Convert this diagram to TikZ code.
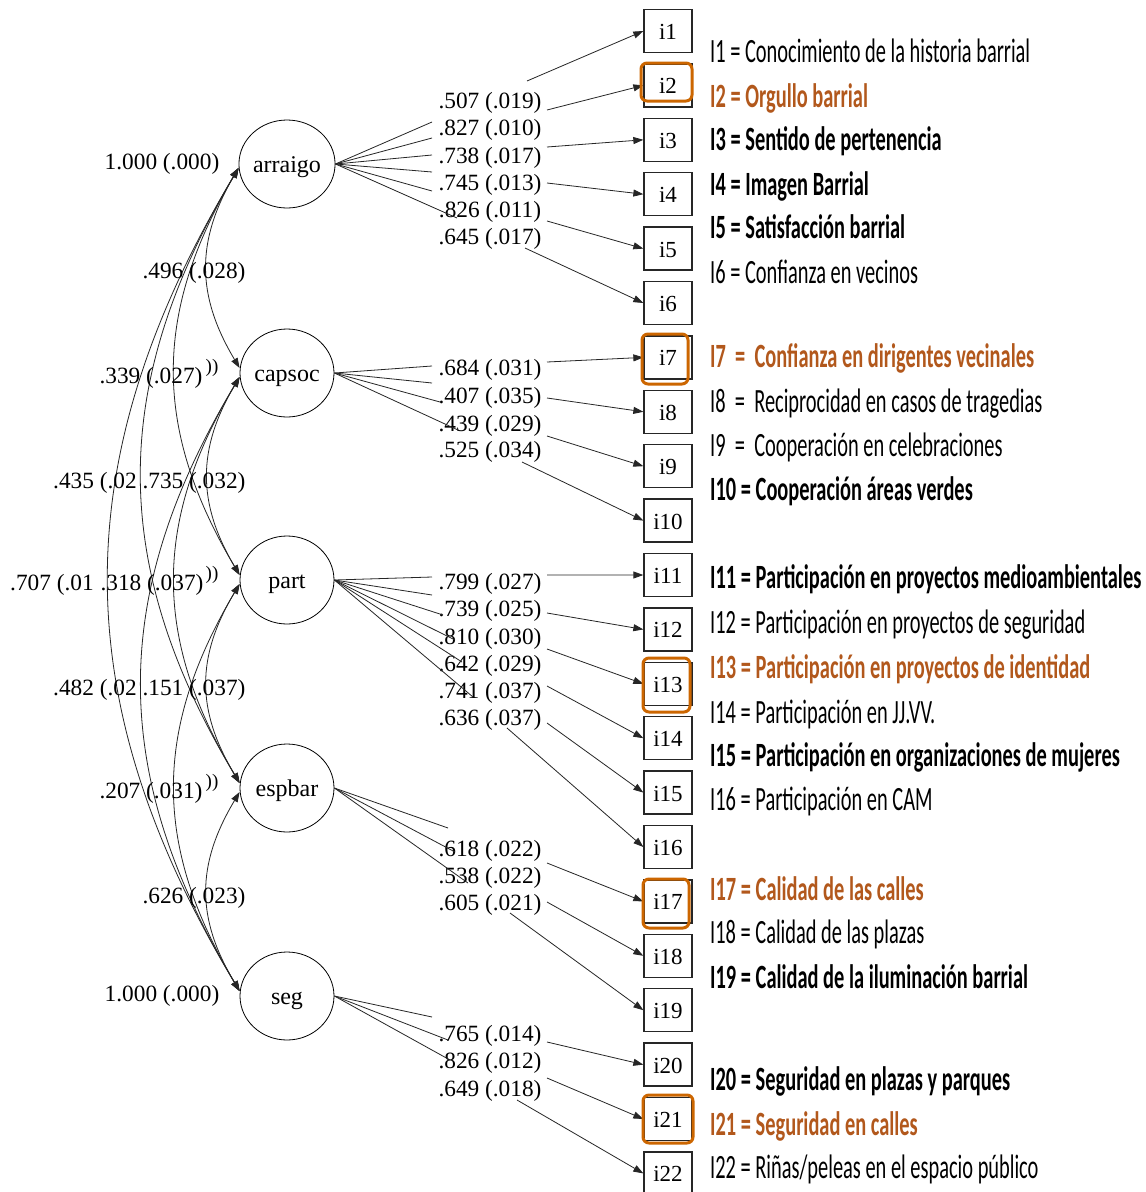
\documentclass[tikz,border=0pt]{standalone}
\usepackage{fontspec}
\setmainfont{Liberation Serif}
\newfontfamily\calib{Carlito}
\usetikzlibrary{shapes.geometric,arrows.meta}
\definecolor{hlbox}{RGB}{204,102,0}
\definecolor{hltext}{RGB}{178,88,28}
\newcommand\mydesc[1]{\scalebox{0.6}[1]{#1}}
\tikzset{
 latent/.style={ellipse,draw,line width=0.8pt,minimum width=94pt,minimum height=88pt,inner sep=0pt,text height=17pt,text depth=0pt,font=\fontsize{24}{26}\selectfont},
 ibox/.style={rectangle,draw=black!85,line width=1.3pt,minimum width=48pt,minimum height=43pt,inner sep=0pt,text height=17pt,text depth=0pt,font=\fontsize{23}{25}\selectfont},
 num/.style={inner sep=0pt,yshift=-2.5pt,font=\fontsize{23.3}{26}\selectfont},
 smallp/.style={inner sep=0pt,font=\fontsize{19}{20}\selectfont},
 lnk/.style={line width=0.8pt,draw=black!85},
 arr/.style={lnk,-{Triangle[length=10pt,width=7pt]}},
 cov/.style={lnk,{Triangle[length=10pt,width=7pt]}-{Triangle[length=10pt,width=7pt]}},
 hl/.style={rectangle,draw=hlbox,line width=3pt,rounded corners=6pt,inner sep=0pt},
 desc/.style={anchor=base west,inner sep=0pt,font=\calib\fontsize{34}{40}\selectfont},
}
\begin{document}
\begin{tikzpicture}[x=1pt,y=-1pt]
\useasboundingbox[fill=white] (0,0) rectangle (1146,1192);

% latent variables
\node[latent] (arraigo) at (287,164) {arraigo};
\node[latent] (capsoc) at (287,373) {capsoc};
\node[latent] (part) at (287,580) {part};
\node[latent] (espbar) at (287,788) {espbar};
\node[latent] (seg) at (287,996) {seg};

% indicators
\foreach \k in {1,...,22}
  \node[ibox] (i\k) at (668,{31+(\k-1)*54.4}) {i\k};

% loadings
\foreach \k/\lat/\ax/\ay/\bx/\by/\ly/\txt in {
 1/arraigo/432/122/527/81/100/.507 (.019),
 2/arraigo/432/138/547/110/127/.827 (.010),
 3/arraigo/432/155/547/147/155/.738 (.017),
 4/arraigo/432/172/547/183/182/.745 (.013),
 5/arraigo/432/191/547/221/209/.826 (.011),
 6/arraigo/457/218/525/248/236/.645 (.017),
 7/capsoc/432/366/547/362/367/.684 (.031),
 8/capsoc/432/383/547/398/395/.407 (.035),
 9/capsoc/440/402/547/436/423/.439 (.029),
 10/capsoc/458/430/522/462/449/.525 (.034),
 11/part/432/577/547/575/581/.799 (.027),
 12/part/432/595/547/613/608/.739 (.025),
 13/part/443/615/547/649/636/.810 (.030),
 14/part/455/640/547/686/663/.642 (.029),
 15/part/462/662/547/723/690/.741 (.037),
 16/part/473/697/507/728/717/.636 (.037),
 17/espbar/448/828/547/863/848/.618 (.022),
 18/espbar/455/852/547/902/875/.538 (.022),
 19/espbar/468/883/510/913/902/.605 (.021),
 20/seg/432/1017/547/1042/1033/.765 (.014),
 21/seg/448/1040/547/1078/1060/.826 (.012),
 22/seg/450/1060/517/1100/1088/.649 (.018)}{
  \coordinate (p\k) at (\ax,\ay);
  \coordinate (q\k) at (\bx,\by);
  \node[num] (l\k) at (490,\ly) {\txt};
  \draw[lnk] (\lat.east) -- (p\k);
  \draw[arr] (q\k) -- (i\k.west);
}

% highlight boxes
\node[hl,minimum width=51pt,minimum height=38pt] (h2) at (666.5,82) {};
\node[hl,minimum width=46pt,minimum height=50pt] (h7) at (665,359) {};
\node[hl,minimum width=47pt,minimum height=54pt] (h13) at (666.5,685) {};
\node[hl,minimum width=46pt,minimum height=49pt] (h17) at (666,903.5) {};
\node[hl,minimum width=50pt,minimum height=48pt] (h21) at (668,1119) {};

% covariances
\coordinate (aS) at ([yshift=-4pt]arraigo.west);
\coordinate (cN) at ([yshift=5pt]capsoc.west);
\coordinate (cS) at ([yshift=-4pt]capsoc.west);
\coordinate (pN) at ([yshift=5pt]part.west);
\coordinate (pS) at ([yshift=-4pt]part.west);
\coordinate (eN) at ([yshift=5pt]espbar.west);
\coordinate (eS) at ([yshift=-4pt]espbar.west);
\coordinate (sN) at ([yshift=5pt]seg.west);
\draw[cov] (aS) .. controls (196,241) and (196,295) .. (cN);
\draw[cov] (aS) .. controls (153,314) and (153,429) .. (pN);
\draw[cov] (aS) .. controls (109,386) and (109,565) .. (eN);
\draw[cov] (aS) .. controls (65,459) and (65,700) .. (sN);
\draw[cov] (cS) .. controls (197,449) and (197,503) .. (pN);
\draw[cov] (cS) .. controls (153,522) and (153,638) .. (eN);
\draw[cov] (cS) .. controls (109,595) and (109,773) .. (sN);
\draw[cov] (pS) .. controls (196,657) and (196,710) .. (eN);
\draw[cov] (pS) .. controls (153,730) and (153,845) .. (sN);
\draw[cov] (eS) .. controls (196,865) and (196,918) .. (sN);

% covariance / variance labels
\node[num] (v1) at (162,161) {1.000 (.000)};
\node[num] (v2) at (162,993) {1.000 (.000)};
\node[num] (c1) at (194,270) {.496 (.028)};
\node[num] (c2) at (151,375) {.339 (.027)};
\node[smallp] (c2p) at (212,368) {))};
\node[num,anchor=west] (c3) at (53,480) {.435 (.02};
\node[num] (c4) at (194,480) {.735 (.032)};
\node[num,anchor=west] (c5) at (10,582) {.707 (.01};
\node[num] (c6) at (152,582) {.318 (.037)};
\node[smallp] (c6p) at (212,575) {))};
\node[num,anchor=west] (c7) at (53,687) {.482 (.02};
\node[num] (c8) at (194,687) {.151 (.037)};
\node[num] (c9) at (151,790) {.207 (.031)};
\node[smallp] (c9p) at (212,783) {))};
\node[num] (c10) at (194,895) {.626 (.023)};

% descriptions
\node[desc] (d1) at (710,62) {\mydesc{I1 = Conocimiento de la historia barrial}};
\node[desc,text=hltext] (d2) at (710,107) {\mydesc{\bfseries I2 = Orgullo barrial}};
\node[desc] (d3) at (710,150) {\mydesc{\bfseries I3 = Sentido de pertenencia}};
\node[desc] (d4) at (710,195) {\mydesc{\bfseries I4 = Imagen Barrial}};
\node[desc] (d5) at (710,238) {\mydesc{\bfseries I5 = Satisfacción barrial}};
\node[desc] (d6) at (710,283) {\mydesc{I6 = Confianza en vecinos}};
\node[desc,text=hltext] (d7) at (710,367) {\mydesc{\bfseries I7 \ = \ Confianza en dirigentes vecinales}};
\node[desc] (d8) at (710,412) {\mydesc{I8 \ = \ Reciprocidad en casos de tragedias}};
\node[desc] (d9) at (710,456) {\mydesc{I9 \ = \ Cooperación en celebraciones}};
\node[desc] (d10) at (710,500) {\mydesc{\bfseries I10 = Cooperación áreas verdes}};
\node[desc] (d11) at (710,588) {\mydesc{\bfseries I11 = Participación en proyectos medioambientales}};
\node[desc] (d12) at (710,633) {\mydesc{I12 = Participación en proyectos de seguridad}};
\node[desc,text=hltext] (d13) at (710,678) {\mydesc{\bfseries I13 = Participación en proyectos de identidad}};
\node[desc] (d14) at (710,723) {\mydesc{I14 = Participación en JJ.VV.}};
\node[desc] (d15) at (710,766) {\mydesc{\bfseries I15 = Participación en organizaciones de mujeres}};
\node[desc] (d16) at (710,810) {\mydesc{I16 = Participación en CAM}};
\node[desc,text=hltext] (d17) at (710,900) {\mydesc{\bfseries I17 = Calidad de las calles}};
\node[desc] (d18) at (710,943) {\mydesc{I18 = Calidad de las plazas}};
\node[desc] (d19) at (710,988) {\mydesc{\bfseries I19 = Calidad de la iluminación barrial}};
\node[desc] (d20) at (710,1090) {\mydesc{\bfseries I20 = Seguridad en plazas y parques}};
\node[desc,text=hltext] (d21) at (710,1135) {\mydesc{\bfseries I21 = Seguridad en calles}};
\node[desc] (d22) at (710,1178) {\mydesc{I22 = Riñas/peleas en el espacio público}};
\end{tikzpicture}
\end{document}
